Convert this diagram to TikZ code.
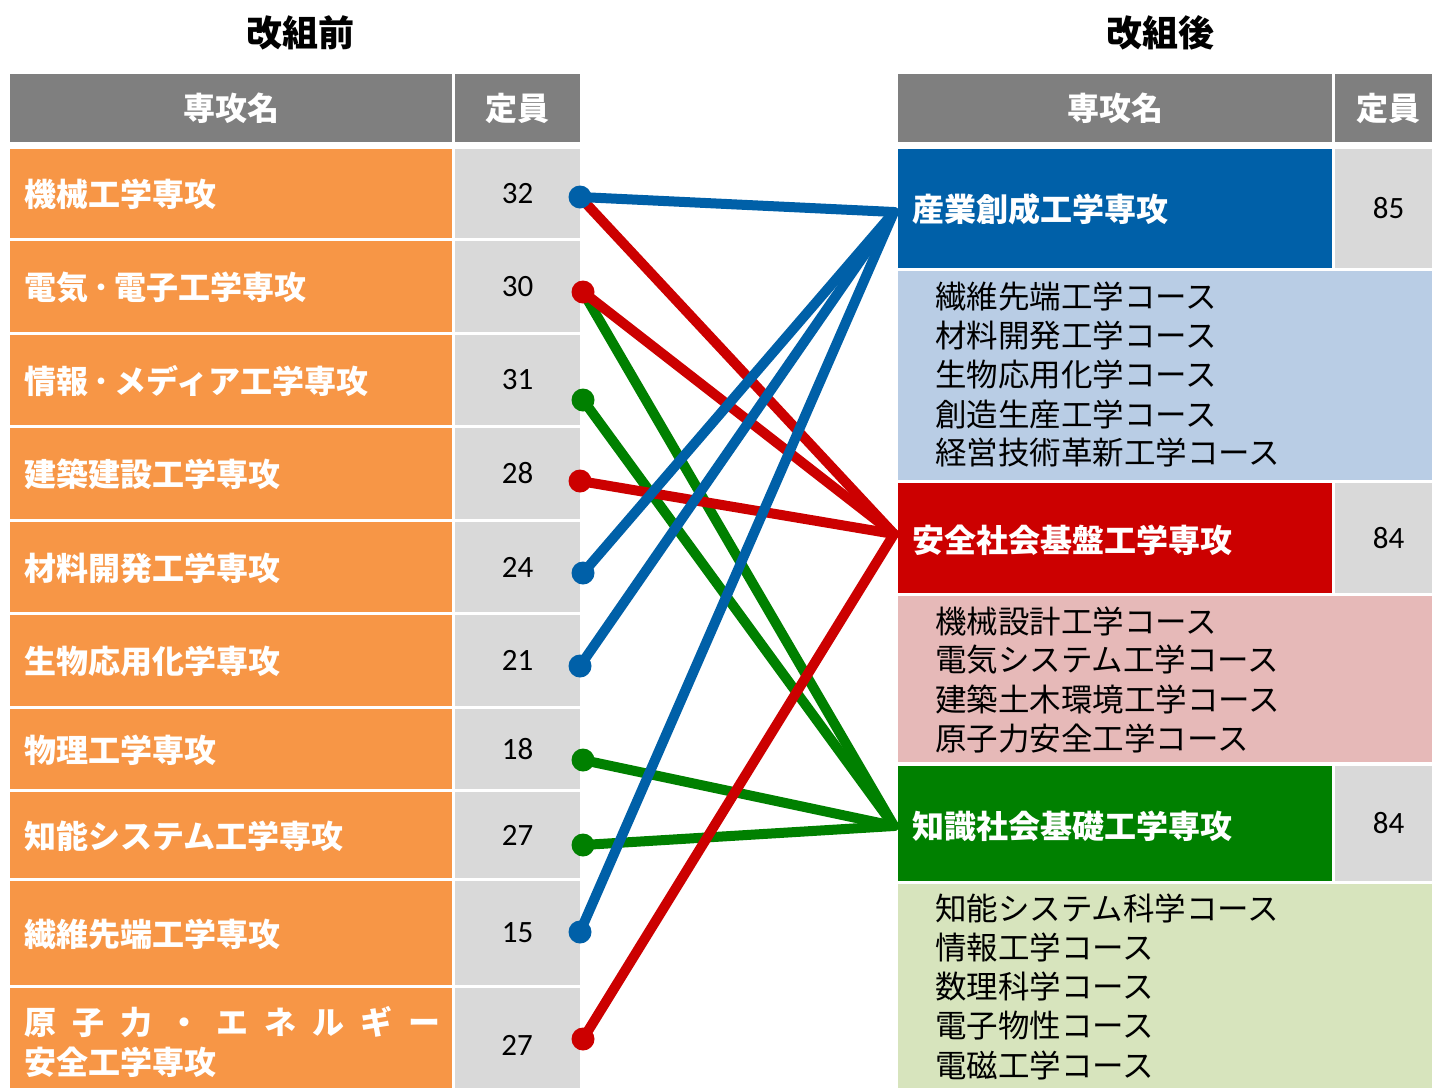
\documentclass[tikz,border=0pt]{standalone}
\usepackage{fontspec}
\setmainfont{Noto Sans CJK JP}
\newfontfamily\numfont{Carlito}
\definecolor{hdr}{HTML}{7F7F7F}
\definecolor{cellgray}{HTML}{D9D9D9}
\definecolor{orng}{HTML}{F79646}
\definecolor{cblue}{HTML}{0060A8}
\definecolor{cred}{HTML}{CC0000}
\definecolor{cgreen}{HTML}{008000}
\definecolor{lblue}{HTML}{B9CDE5}
\definecolor{lpink}{HTML}{E6B9B8}
\definecolor{lgreen}{HTML}{D7E4BD}
\begin{document}
\begin{tikzpicture}[x=1pt,y=-1pt,
  box/.style={draw=none, inner sep=0pt, outer sep=0pt, anchor=north west},
  hdrtxt/.style={text=white, font=\fontsize{32}{32}\selectfont\bfseries},
  numtxt/.style={text=black, font=\numfont\fontsize{31}{31}\selectfont},
  lbl/.style={text=white, inner sep=0pt, anchor=west, font=\fontsize{32}{32}\selectfont\bfseries},
  course/.style={text=black, inner sep=0pt, anchor=west, font=\fontsize{31.5}{31.5}\selectfont},
  title/.style={text=black, font=\fontsize{36}{36}\selectfont\bfseries},
  link/.style={line width=10pt, line cap=round},
  dotc/.style={radius=11.5pt}]
\useasboundingbox (0,0) rectangle (1432,1088);
\fill[white] (0,0) rectangle (1432,1088);

% titles
\node[title] (tl) at (300,33) {改組前};
\node[title] (tr) at (1160,33) {改組後};

% left header
\node[box, fill=hdr, minimum width=442pt, minimum height=68pt, hdrtxt] (hL) at (10,74) {専攻名};
\node[box, fill=hdr, minimum width=125pt, minimum height=68pt, hdrtxt] (hN) at (455,74) {定員};

% left rows
\foreach \i/\t/\b/\lab/\n in {
  1/149/238/機械工学専攻/32,
  2/241/332/電気\,･\,電子工学専攻/30,
  3/335/425/情報\,･\,メディア工学専攻/31,
  4/428/519/建築建設工学専攻/28,
  5/522/612/材料開発工学専攻/24,
  6/615/706/生物応用化学専攻/21,
  7/709/789/物理工学専攻/18,
  8/792/878/知能システム工学専攻/27,
  9/881/985/繊維先端工学専攻/15}{
  \node[box, fill=orng, minimum width=442pt, minimum height={\b-\t}] (L\i) at (10,\t) {};
  \node[box, fill=cellgray, minimum width=125pt, minimum height={\b-\t}, numtxt] (N\i) at (455,\t) {\n};
  \node[lbl] (T\i) at (24,{(\t+\b)/2+1}) {\lab};
}
\node[box, fill=orng, minimum width=442pt, minimum height=100pt] (L10) at (10,988) {};
\node[box, fill=cellgray, minimum width=125pt, minimum height=100pt] (N10) at (455,988) {};
\node[numtxt] (N10t) at (517,1045) {27};
\node[lbl] (T10a) at (24,1022) {\hbox to 416pt{原\hfill 子\hfill 力\hfill ・\hfill エ\hfill ネ\hfill ル\hfill ギ\hfill ー}};
\node[lbl] (T10b) at (24,1062) {安全工学専攻};

% right header
\node[box, fill=hdr, minimum width=434pt, minimum height=68pt, hdrtxt] (hR) at (898,74) {専攻名};
\node[box, fill=hdr, minimum width=107pt, minimum height=68pt, hdrtxt] (hRN) at (1335,74) {定員};

% right: major 1
\node[box, fill=cblue, minimum width=434pt, minimum height=119pt] (M1) at (898,149) {};
\node[box, fill=cellgray, minimum width=107pt, minimum height=119pt, numtxt] (M1n) at (1335,149) {85};
\node[lbl] (M1t) at (912,209) {産業創成工学専攻};
\node[box, fill=lblue, minimum width=544pt, minimum height=209pt] (C1) at (898,271) {};
\foreach \c [count=\k] in {繊維先端工学コース,材料開発工学コース,生物応用化学コース,創造生産工学コース,経営技術革新工学コース}
  \node[course] (C1l\k) at (935,{297+39*(\k-1)}) {\c};

% right: major 2
\node[box, fill=cred, minimum width=434pt, minimum height=110pt] (M2) at (898,483) {};
\node[box, fill=cellgray, minimum width=107pt, minimum height=110pt, numtxt] (M2n) at (1335,483) {84};
\node[lbl] (M2t) at (912,540) {安全社会基盤工学専攻};
\node[box, fill=lpink, minimum width=544pt, minimum height=166pt] (C2) at (898,596) {};
\foreach \c [count=\k] in {機械設計工学コース,電気システム工学コース,建築土木環境工学コース,原子力安全工学コース}
  \node[course] (C2l\k) at (935,{621+39*(\k-1)}) {\c};

% right: major 3
\node[box, fill=cgreen, minimum width=434pt, minimum height=115pt] (M3) at (898,766) {};
\node[box, fill=cellgray, minimum width=107pt, minimum height=115pt, numtxt] (M3n) at (1335,766) {84};
\node[lbl] (M3t) at (912,826) {知識社会基礎工学専攻};
\node[box, fill=lgreen, minimum width=544pt, minimum height=204pt] (C3) at (898,884) {};
\foreach \c [count=\k] in {知能システム科学コース,情報工学コース,数理科学コース,電子物性コース,電磁工学コース}
  \node[course] (C3l\k) at (935,{908+39.3*(\k-1)}) {\c};

% connector end points
\coordinate (D1) at (580,197);
\coordinate (D2) at (583,292);
\coordinate (D3) at (583,400);
\coordinate (D4) at (580,481);
\coordinate (D5) at (583,573);
\coordinate (D6) at (580,666);
\coordinate (D7) at (583,760);
\coordinate (D8) at (583,845);
\coordinate (D9) at (580,932);
\coordinate (D10) at (583,1039);
\coordinate (R1) at (894,212);
\coordinate (R2) at (894,534);
\coordinate (R3) at (894,826);

% green
\foreach \s in {D2,D3,D7,D8} \draw[link, cgreen] (\s) -- (R3);
\foreach \s in {D3,D7,D8} \fill[cgreen] (\s) circle[dotc];
% red
\foreach \s in {D1,D2,D4,D10} \draw[link, cred] (\s) -- (R2);
\foreach \s in {D2,D4,D10} \fill[cred] (\s) circle[dotc];
% blue
\foreach \s in {D1,D5,D6,D9} \draw[link, cblue] (\s) -- (R1);
\foreach \s in {D1,D5,D6,D9} \fill[cblue] (\s) circle[dotc];
\end{tikzpicture}
\end{document}
